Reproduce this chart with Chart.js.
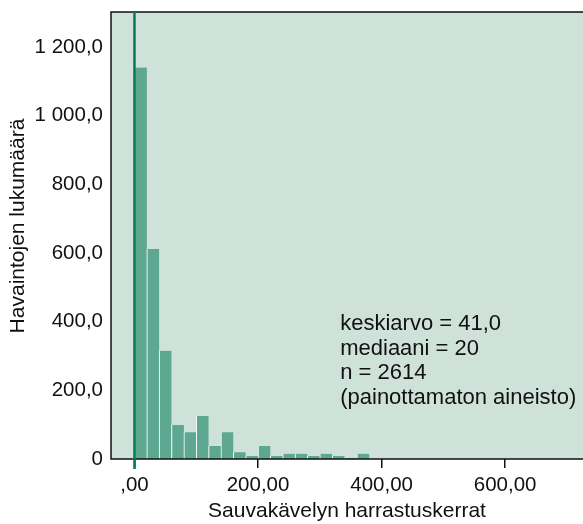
<!DOCTYPE html>
<html>
<head>
<meta charset="utf-8">
<script src="https://cdn.jsdelivr.net/npm/chart.js@4"></script>
<style>
  html, body { margin: 0; padding: 0; background: #fff; }
  #wrap { width: 583px; height: 524px; }
</style>
</head>
<body>
<div id="wrap"><canvas id="hist"></canvas></div>
<script>
// histogram bins (lower edge, width 20) and counts
var binStarts = [0, 20, 40, 60, 80, 100, 120, 140, 160, 180, 200, 220, 240, 260, 280, 300, 320, 340, 360];
var binCounts = [1140, 612, 315, 99, 78, 125, 38, 78, 20, 9, 38, 9, 15, 15, 9, 15, 9, 3, 15];
var binWidth = 20;

var xTickValues = [0, 200, 400, 600];
var xTickLabels = [',00', '200,00', '400,00', '600,00'];
var yTickValues = [0, 200, 400, 600, 800, 1000, 1200];
var yTickLabels = ['0', '200,0', '400,0', '600,0', '800,0', '1 000,0', '1 200,0'];

var statsLines = ['keskiarvo = 41,0', 'mediaani = 20', 'n = 2614', '(painottamaton aineisto)'];
var refLineValue = 0;

var FONT = '"Liberation Sans", Arial, Helvetica, sans-serif';

var histData = [];
for (var i = 0; i < binStarts.length; i++) {
    histData.push({x: binStarts[i] + binWidth / 2, y: binCounts[i]});
}

// plot background, frame, reference line, y title and the stats text
var decor = {
    id: 'decor',
    beforeDatasetsDraw: function (chart) {
        var a = chart.chartArea, ctx = chart.ctx;
        ctx.save();
        ctx.fillStyle = '#cee2d9';
        ctx.fillRect(a.left, a.top, a.right - a.left, a.bottom - a.top);
        ctx.restore();
    },
    afterDatasetsDraw: function (chart) {
        var a = chart.chartArea, ctx = chart.ctx;
        var xs = chart.scales.x, ys = chart.scales.y;
        ctx.save();
        // frame
        ctx.strokeStyle = '#111';
        ctx.lineWidth = 1.5;
        ctx.beginPath();
        ctx.moveTo(a.right + 2, a.top);
        ctx.lineTo(a.left, a.top);
        ctx.lineTo(a.left, a.bottom);
        ctx.lineTo(a.right + 2, a.bottom);
        ctx.stroke();
        // green line at zero
        var gx = xs.getPixelForValue(refLineValue);
        ctx.strokeStyle = '#057a58';
        ctx.lineWidth = 2.5;
        ctx.beginPath();
        ctx.moveTo(gx, a.top);
        ctx.lineTo(gx, a.bottom + 10);
        ctx.stroke();
        // stats
        ctx.fillStyle = '#111';
        ctx.font = '22px ' + FONT;
        ctx.textAlign = 'left';
        ctx.textBaseline = 'middle';
        var tx = xs.getPixelForValue(333), ty = ys.getPixelForValue(392);
        for (var i = 0; i < statsLines.length; i++) {
            ctx.fillText(statsLines[i], tx, ty + i * 24.5);
        }
        // y title
        ctx.translate(18, 226);
        ctx.rotate(-Math.PI / 2);
        ctx.textAlign = 'center';
        ctx.font = '21px ' + FONT;
        ctx.fillText('Havaintojen lukumäärä', 0, 0);
        ctx.restore();
    }
};

var ctx = document.getElementById('hist').getContext('2d');
var myHist = new Chart(ctx, {
    type: 'bar',
    data: {
        datasets: [{
            label: 'Havaintojen lukumäärä',
            data: histData,
            backgroundColor: '#5ea892',
            borderColor: '#ffffff',
            borderWidth: {left: 1, right: 0, top: 0, bottom: 0},
            borderSkipped: false,
            barPercentage: 1,
            categoryPercentage: 1
        }]
    },
    options: {
        responsive: true,
        maintainAspectRatio: false,
        animation: false,
        layout: {padding: {top: 12, right: 0, left: 0, bottom: 0}},
        plugins: {
            legend: {display: false},
            tooltip: {enabled: false}
        },
        scales: {
            x: {
                type: 'linear',
                offset: false,
                min: -38,
                max: 726,
                afterBuildTicks: function (scale) {
                    scale.ticks = xTickValues.map(function (v) { return {value: v}; });
                },
                afterFit: function (scale) {
                    scale.height = 65;
                    scale.paddingLeft = 0;
                    scale.paddingRight = 0;
                },
                border: {display: false},
                grid: {offset: false, drawOnChartArea: false, drawTicks: true, tickLength: 9, color: '#111', lineWidth: 1.5},
                ticks: {
                    color: '#111',
                    font: {family: FONT, size: 20.5},
                    padding: 5,
                    maxRotation: 0,
                    autoSkip: false,
                    callback: function (v) { return xTickLabels[xTickValues.indexOf(v)]; }
                },
                title: {
                    display: true,
                    text: 'Sauvakävelyn harrastuskerrat',
                    color: '#111',
                    font: {family: FONT, size: 21},
                    padding: {top: 0, bottom: 0}
                }
            },
            y: {
                min: 0,
                max: 1302,
                afterBuildTicks: function (scale) {
                    scale.ticks = yTickValues.map(function (v) { return {value: v}; });
                },
                afterFit: function (scale) {
                    scale.width = 111;
                    scale.paddingTop = 0;
                    scale.paddingBottom = 0;
                },
                border: {display: false},
                grid: {display: false, drawTicks: false},
                ticks: {
                    color: '#111',
                    font: {family: FONT, size: 20.5},
                    padding: 8,
                    autoSkip: false,
                    callback: function (v) { return yTickLabels[yTickValues.indexOf(v)]; }
                }
            }
        }
    },
    plugins: [decor]
});
</script>
</body>
</html>
